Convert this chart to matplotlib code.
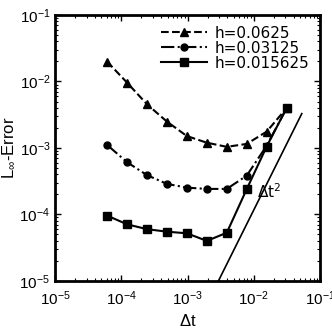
import numpy as np
import matplotlib.pyplot as plt
from matplotlib.ticker import FuncFormatter

plt.rcParams['font.family'] = ['Liberation Sans', 'DejaVu Sans']
plt.rcParams['mathtext.default'] = 'regular'

# time steps 2^-14 ... 2^-5
dt = [6.1035e-5, 1.2207e-4, 2.4414e-4, 4.8828e-4, 9.7656e-4,
      1.9531e-3, 3.9063e-3, 7.8125e-3, 1.5625e-2, 3.125e-2]

err_h1 = [0.0199, 0.0096, 0.00454, 0.00249, 0.00151,
          0.00120, 0.00104, 0.00115, 0.00176, 0.00398]
err_h2 = [0.00111, 0.00061, 0.00039, 0.000288, 0.000253,
          0.000242, 0.000242, 0.000383, 0.00108, 0.00395]
err_h3 = [9.6e-5, 7.1e-5, 6.0e-5, 5.5e-5, 5.2e-5,
          4.0e-5, 5.3e-5, 2.4e-4, 1.05e-3, 3.98e-3]

labels = ['h=0.0625', 'h=0.03125', 'h=0.015625']

# reference slope-2 line
ref_dt = [0.00292, 0.053]
ref_c = 1.17

fig = plt.figure(figsize=(3.32, 3.34), dpi=100)
ax = fig.add_axes([0.166, 0.159, 0.798, 0.796])

ax.plot(dt, err_h1, 'k--', marker='^', ms=6, lw=1.5, label=labels[0])
ax.plot(dt, err_h2, 'k-.', marker='o', ms=5, lw=1.5, label=labels[1])
ax.plot(dt, err_h3, 'k-', marker='s', ms=6, lw=1.5, label=labels[2])
ax.plot(ref_dt, [ref_c * d**2 for d in ref_dt], 'k-', lw=1.2)
ax.text(0.0112, 2.2e-4, r'$\Delta$t$^2$', fontsize=11, va='center',
        family='DejaVu Sans')

ax.set_xscale('log')
ax.set_yscale('log')
ax.set_xlim(1e-5, 1e-1)
ax.set_ylim(1e-5, 1e-1)
ax.set_xlabel(r'$\Delta$t', fontsize=12)
ax.set_ylabel(r'L$_{\infty}$-Error', fontsize=12, labelpad=2)

fmt = FuncFormatter(lambda v, p: '10$^{%d}$' % int(round(np.log10(v))))
ax.xaxis.set_major_formatter(fmt)
ax.yaxis.set_major_formatter(fmt)

ax.tick_params(which='both', direction='in', top=True, right=True, labelsize=11)
ax.tick_params(which='major', length=4, width=1)
ax.tick_params(which='minor', length=2, width=0.8)
ax.tick_params(axis='x', pad=6)
for s in ax.spines.values():
    s.set_linewidth(2)

ax.legend(loc='upper right', frameon=False, handlelength=3.0,
          prop={'family': 'DejaVu Sans', 'size': 11},
          borderaxespad=0.3, labelspacing=0.0, handletextpad=0.5)

fig.savefig('out.png', dpi=100)
